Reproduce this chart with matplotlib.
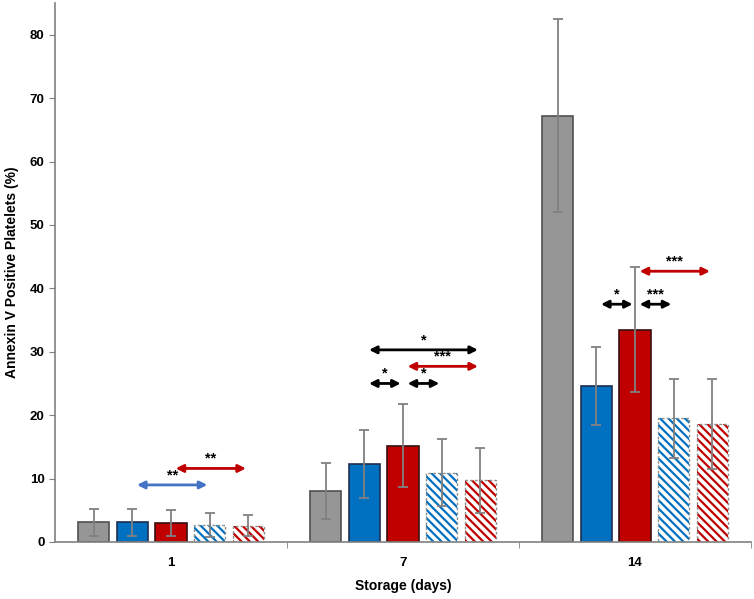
import numpy as np
import matplotlib
matplotlib.use("Agg")
import matplotlib.pyplot as plt

plt.rcParams['font.family'] = ['Liberation Sans', 'DejaVu Sans']
plt.rcParams['font.weight'] = 'bold'
plt.rcParams['hatch.linewidth'] = 1.6

# data
days = ["1", "7", "14"]
gray_mean = [3.1, 8.1, 67.2]
gray_err = [2.1, 4.4, 15.2]
blue_mean = [3.1, 12.3, 24.6]
blue_err = [2.1, 5.3, 6.2]
red_mean = [3.0, 15.2, 33.5]
red_err = [2.0, 6.5, 9.8]
blue_h_mean = [2.7, 10.9, 19.5]
blue_h_err = [1.9, 5.3, 6.2]
red_h_mean = [2.6, 9.7, 18.6]
red_h_err = [1.7, 5.1, 7.1]

# comparisons: (group, bar from, bar to, y, label, colour)
comparisons = [
    (0, 1, 3, 9.0, "**", "#4472C4"),
    (0, 2, 4, 11.6, "**", "#C00000"),
    (1, 1, 2, 25.0, "*", "black"),
    (1, 2, 3, 25.0, "*", "black"),
    (1, 1, 4, 30.3, "*", "black"),
    (1, 2, 4, 27.7, "***", "#C00000"),
    (2, 1, 2, 37.5, "*", "black"),
    (2, 2, 3, 37.5, "***", "black"),
    (2, 2, 4, 42.7, "***", "#C00000"),
]

means = [gray_mean, blue_mean, red_mean, blue_h_mean, red_h_mean]
errs = [gray_err, blue_err, red_err, blue_h_err, red_h_err]
faces = ["#969696", "#0070C0", "#C00000", "white", "white"]
edges = ["#505050", "#1F2F4F", "#3A1010", "#909090", "#909090"]
hatch_cols = [None, None, None, "#0070C0", "#C00000"]

fig = plt.figure(figsize=(7.54, 5.99), dpi=100)
ax = fig.add_axes([55/754, 57/599, 696/754, 539/599])

x = np.arange(len(days))
step = 0.1665
width = 0.134
for i in range(5):
    pos = x + (i - 2) * step
    if hatch_cols[i] is None:
        ax.bar(pos, means[i], width, color=faces[i], edgecolor=edges[i], linewidth=1.2, zorder=2)
    else:
        ax.bar(pos, means[i], width, color="white", edgecolor=hatch_cols[i], hatch="\\\\\\\\",
               linewidth=0, zorder=2)
        ax.bar(pos, means[i], width, color="none", edgecolor=edges[i], linewidth=1.0,
               linestyle=(0, (2, 1.5)), zorder=3)
    ax.errorbar(pos, means[i], yerr=errs[i], fmt="none", ecolor="#808080", elinewidth=1.3,
                capsize=3.5, capthick=1.3, zorder=4)

for g, a, b, yv, lab, col in comparisons:
    xa = g + (a - 2) * step + 0.02
    xb = g + (b - 2) * step - 0.01
    ax.annotate("", xy=(xb, yv), xytext=(xa, yv),
                arrowprops=dict(arrowstyle="<|-|>", color=col, lw=2.0,
                                mutation_scale=11, shrinkA=0, shrinkB=0), zorder=5)
    ax.text((xa + xb) / 2, yv + 0.4, lab, ha="center", va="bottom", fontsize=10.5,
            fontweight="bold", color="black")

ax.set_xlim(-0.5, 2.5)
ax.set_ylim(0, 85)
ax.set_yticks(np.arange(0, 81, 10))
ax.set_xticks(x)
ax.set_xticklabels(days)
ax.set_xticks([0.5, 1.5, 2.5], minor=True)
ax.tick_params(axis="x", which="major", length=0, labelsize=9.5, pad=11)
ax.tick_params(axis="x", which="minor", length=4, color="#808080", direction="out")
ax.tick_params(axis="y", length=4, color="#808080", labelsize=9.5, direction="out")
for s in ["top", "right"]:
    ax.spines[s].set_visible(False)
for s in ["left", "bottom"]:
    ax.spines[s].set_color("#808080")
    ax.spines[s].set_linewidth(1.2)

ax.set_xlabel("Storage (days)", fontsize=10, fontweight="bold", labelpad=7)
ax.set_ylabel("Annexin V Positive Platelets (%)", fontsize=10, fontweight="bold", labelpad=8)

fig.savefig("out.png", dpi=100)
